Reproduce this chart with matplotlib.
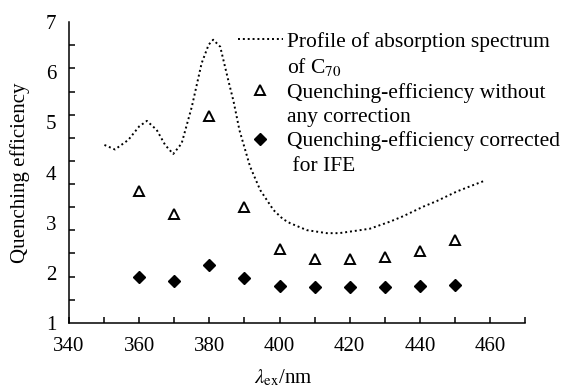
import matplotlib
matplotlib.use('agg')
import matplotlib.pyplot as plt
from matplotlib.lines import Line2D
import numpy as np

plt.rcParams['font.family'] = ['Liberation Serif', 'DejaVu Serif']
plt.rcParams['mathtext.fontset'] = 'stix'

# excitation wavelengths (nm) of the measured points
wavelengths = [360, 370, 380, 390, 400, 410, 420, 430, 440, 450]
# quenching efficiency without any correction
qe_raw = [3.63, 3.17, 5.13, 3.32, 2.47, 2.28, 2.28, 2.32, 2.44, 2.65]
# quenching efficiency corrected for IFE
qe_corr = [1.91, 1.83, 2.16, 1.90, 1.74, 1.71, 1.72, 1.72, 1.73, 1.76]

# traced profile of the C70 absorption spectrum (arbitrary scale)
abs_wl = [350.1, 353.1, 356.9, 360.0, 362.2, 365.0, 367.4, 369.7, 372.1,
          375.0, 377.8, 379.8, 381.1, 383.1, 385.4, 386.9, 388.6, 391.6,
          394.5, 398.3, 401.0, 403.0, 407.8, 413.5, 417.0, 422.0, 425.8,
          431.5, 435.3, 441.0, 444.8, 450.5, 454.5, 458.6]
abs_val = [4.55, 4.46, 4.65, 4.92, 5.03, 4.85, 4.55, 4.37, 4.58,
           5.31, 6.18, 6.55, 6.65, 6.51, 5.84, 5.42, 4.84, 4.12,
           3.65, 3.25, 3.07, 2.99, 2.85, 2.79, 2.79, 2.84, 2.88,
           3.02, 3.13, 3.32, 3.43, 3.62, 3.73, 3.84]

fig = plt.figure(figsize=(5.61, 3.89), dpi=100)
ax = fig.add_axes([0.123, 0.170, 0.813, 0.773])

line, = ax.plot(abs_wl, abs_val, color='black', lw=1.4,
                linestyle=(0, (1, 1.5)))
tri, = ax.plot(wavelengths, qe_raw, linestyle='none', marker='^',
               markersize=7, markerfacecolor='white', markeredgecolor='black',
               markeredgewidth=1.4)
dia, = ax.plot(wavelengths, qe_corr, linestyle='none', marker='D',
               markersize=6, color='black')

ax.set_xlim(340, 470)
ax.set_ylim(1, 7)
for side in ['top', 'right']:
    ax.spines[side].set_visible(False)
for side in ['left', 'bottom']:
    ax.spines[side].set_linewidth(1.1)

ax.set_xticks(np.arange(340, 461, 20))
ax.set_xticks(np.arange(350, 471, 20), minor=True)
ax.set_yticks(np.arange(1, 8))
ax.set_yticks(np.linspace(1, 7, 14), minor=True)
ax.tick_params(axis='x', which='both', direction='in', length=4, width=1.1,
               labelsize=15, pad=10)
ax.tick_params(axis='y', which='major', length=0, labelsize=15, pad=9)
ax.tick_params(axis='y', which='minor', direction='in', length=4, width=1.1)

ax.set_xlabel(r'$\lambda_{\rm ex}$/nm', fontsize=15)
ax.xaxis.set_label_coords(0.47, -0.15)
ax.set_ylabel('Quenching efficiency', fontsize=15)
ax.yaxis.set_label_coords(-0.085, 0.5)

blank = Line2D([], [], linestyle='none')
handles = [line, blank, tri, blank, dia, blank]
labels = ['Profile of absorption spectrum', 'of C$_{70}$',
          'Quenching-efficiency without', 'any correction',
          'Quenching-efficiency corrected', ' for IFE']
ax.legend(handles, labels, loc='upper left', bbox_to_anchor=(0.424, 0.918),
          bbox_transform=fig.transFigure, frameon=False, fontsize=15.5,
          handlelength=2.1, handletextpad=0.2, labelspacing=0.2,
          borderpad=0, borderaxespad=0, numpoints=1)

fig.savefig('out.png', dpi=100)
